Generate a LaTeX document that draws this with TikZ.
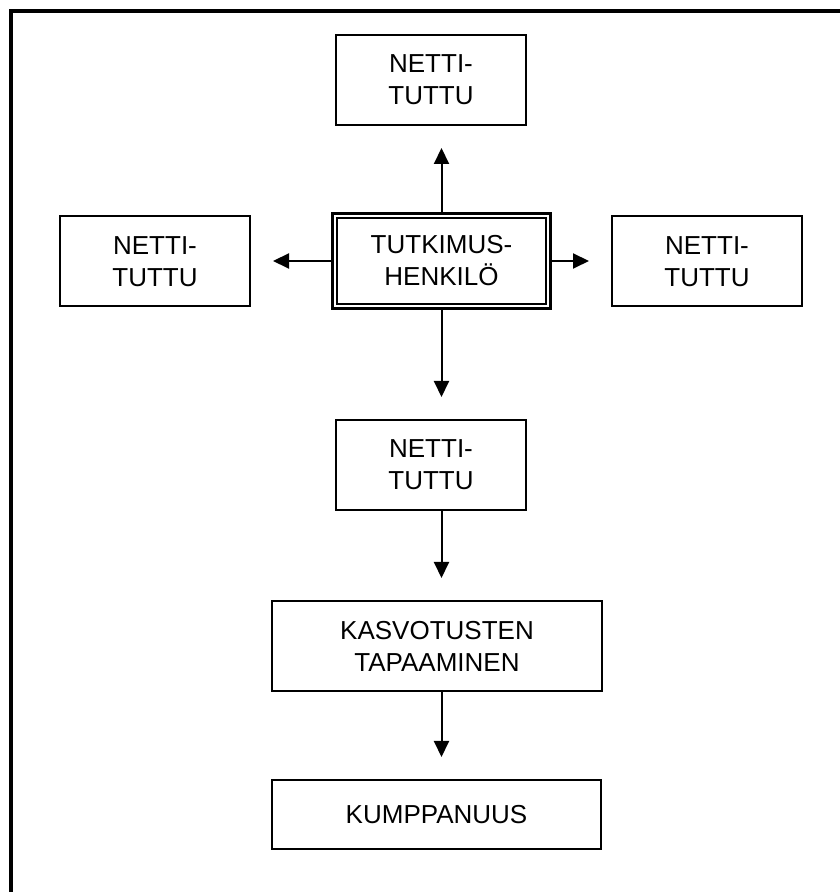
\documentclass[tikz,border=0pt]{standalone}
\usepackage{fontspec}
\setmainfont{Liberation Sans}
\usetikzlibrary{arrows.meta,calc}
\tikzset{
  box/.style={draw=black, line width=2pt, align=center, inner sep=0pt,
    font=\fontsize{26}{32}\selectfont, minimum height=90pt},
  tuttubox/.style={box, minimum width=190pt},
  mainbox/.style={box, line width=3pt, minimum width=218pt, minimum height=95pt},
  arrow/.style={draw=black, line width=2pt, -{Triangle[length=16pt,width=15pt]}, shorten >=22pt},
  frame/.style={draw=black, line width=4pt}
}

\begin{document}
\begin{tikzpicture}[x=1pt,y=1pt]
  \useasboundingbox (0,0) rectangle (840,892);
  \draw[frame] (11,0) -- (11,881) -- (840,881);

  % keskimmainen laatikko
  \node[mainbox] (henkilo) at (441.5,631) {TUTKIMUS-\\HENKILÖ};
  \draw[line width=1.75pt] ([shift={(6,6)}]henkilo.south west) rectangle ([shift={(-6,-6)}]henkilo.north east);

  \node[tuttubox] (ylos) at (431,812) {NETTI-\\TUTTU};
  \node[tuttubox] (vasen) at (155,630.5) {NETTI-\\TUTTU};
  \node[tuttubox] (oikea) at (707,630.5) {NETTI-\\TUTTU};
  \node[tuttubox] (alas) at (431,427) {NETTI-\\TUTTU};
  \node[box, minimum width=330pt] (kasvo) at (437,246) {KASVOTUSTEN\\TAPAAMINEN};
  \node[box, minimum width=329pt, minimum height=69pt] (kumppani) at (436.5,77.5) {KUMPPANUUS};

  \draw[arrow] (henkilo.north) -- (henkilo.north |- ylos.south);
  \draw[arrow] (henkilo.west) -- (henkilo.west -| vasen.east);
  \draw[arrow] (henkilo.east) -- (henkilo.east -| oikea.west);
  \draw[arrow] (henkilo.south) -- (henkilo.south |- alas.north);
  \draw[arrow] (henkilo |- alas.south) -- (henkilo |- kasvo.north);
  \draw[arrow] (henkilo |- kasvo.south) -- (henkilo |- kumppani.north);
\end{tikzpicture}
\end{document}
